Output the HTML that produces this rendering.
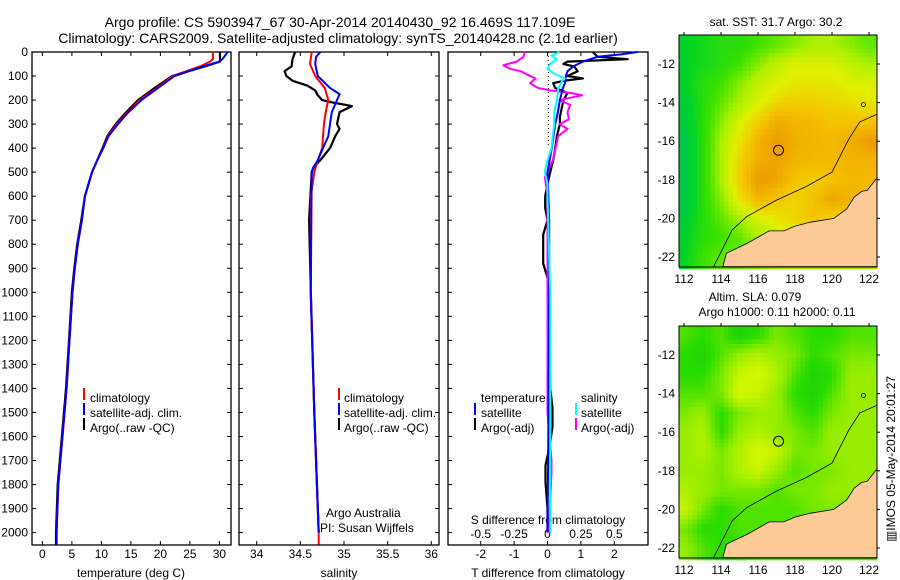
<!DOCTYPE html>
<html><head><meta charset="utf-8">
<style>
html,body{margin:0;padding:0;background:#fff;}
svg{display:block;font-family:"Liberation Sans",sans-serif;}
text{font-size:12px;fill:#000;}
</style></head>
<body>
<svg id="fig" width="900" height="580" viewBox="0 0 900 580" xmlns="http://www.w3.org/2000/svg">
<text x="340" y="27" text-anchor="middle" style="font-size:14px">Argo profile: CS 5903947_67 30-Apr-2014 20140430_92 16.469S 117.109E</text>
<text x="338" y="43" text-anchor="middle" style="font-size:14px">Climatology: CARS2009. Satellite-adjusted climatology: synTS_20140428.nc (2.1d earlier)</text>
<g id="p1"></g>
<g id="p2"></g>
<g id="p3"></g>
<g id="m1"></g>
<g id="m2"></g>
<text x="776" y="26" text-anchor="middle">sat. SST: 31.7 Argo: 30.2</text>
<text x="755" y="301" text-anchor="middle">Altim. SLA: 0.079</text>
<text x="777" y="316" text-anchor="middle">Argo h1000: 0.11 h2000: 0.11</text>
<text x="0" y="0" transform="translate(895,459) rotate(-90)" text-anchor="middle">▥IMOS 05-May-2014 20:01:27</text>
</svg>
<script>
// ---------- data ----------
const depthTicks=[0,100,200,300,400,500,600,700,800,900,1000,1100,1200,1300,1400,1500,1600,1700,1800,1900,2000];
const tempTicks=[0,5,10,15,20,25,30];
const salTicks=[34,34.5,35,35.5,36];
const salTickLabels=["34","34.5","35","35.5","36"];
const tdiffTicks=[-2,-1,0,1,2];
const sdiffTicks=[-0.5,-0.25,0,0.25,0.5];
const sdiffTickLabels=["-0.5","-0.25","0","0.25","0.5"];

const tDepth=[0,30,40,60,100,150,200,250,300,350,400,450,500,600,700,800,900,1000,1200,1400,1600,1800,2000,2050];
const tClim=[28.9,28.9,28.4,26.7,22.1,19.4,16.5,14.5,12.6,11.1,10.3,9.3,8.4,7.2,6.7,6.0,5.5,5.1,4.6,4.1,3.4,2.7,2.4,2.4];
const tSat=[31.4,30.5,30.0,27.2,22.4,19.6,16.8,14.6,12.8,11.2,10.3,9.3,8.4,7.2,6.7,6.0,5.5,5.1,4.6,4.1,3.4,2.7,2.4,2.4];
const tArgo=[30.1,30.1,30.1,27.5,22.0,19.0,16.2,14.2,12.4,11.0,10.2,9.3,8.4,7.2,6.6,5.9,5.4,5.0,4.5,4.0,3.3,2.6,2.3,2.3];

const sClimDepth=[0,50,100,150,200,250,300,400,450,500,550,600,1000,1500,2000,2050];
const sClim=[34.63,34.61,34.67,34.78,34.82,34.79,34.77,34.75,34.70,34.66,34.64,34.62,34.62,34.66,34.71,34.71];
const sSatDepth=[0,20,50,100,150,175,200,250,300,350,400,450,480,500,1000,1500,2000];
const sSat=[34.73,34.68,34.67,34.70,34.84,34.95,34.92,34.86,34.84,34.82,34.76,34.70,34.65,34.63,34.62,34.66,34.71];
const sArgoDepth=[0,30,60,80,100,120,140,160,180,200,210,225,250,300,320,350,400,450,480,500,700,1000,1500,2000];
const sArgo=[34.44,34.41,34.40,34.32,34.34,34.41,34.58,34.67,34.70,34.75,34.87,35.09,34.95,34.92,34.95,34.90,34.84,34.73,34.65,34.63,34.60,34.62,34.66,34.71];

const dtSatDepth=[0,10,20,40,60,80,100,130,150,200,250,300,400,500,700,1000,1500,2000];
const dtSat=[2.7,2.2,1.5,1.06,0.77,0.6,0.55,0.52,0.46,0.37,0.31,0.23,0.13,0.0,0.05,0.05,0.03,0.0];
const dtArgoDepth=[0,20,30,40,50,60,80,100,110,120,130,150,170,200,230,270,300,350,400,450,500,550,600,650,700,760,880,950,1100,1400,1480,1560,1650,1720,1790,1900,2000];
const dtArgo=[1.36,1.5,2.4,0.6,0.48,0.8,0.9,0.6,1.06,0.48,0.17,0.23,0.6,0.48,0.43,0.37,0.37,0.28,0.23,0.17,0.08,0.0,-0.07,-0.07,0.0,-0.13,-0.13,0.02,0.05,0.08,0.15,0.15,0.05,-0.06,-0.06,0.0,0.0];
const dsSatDepth=[0,15,30,50,70,90,110,120,150,200,250,300,350,400,450,500,550,600,1000,1500,2000];
const dsSat=[0.09,0.03,0.07,0.02,0.0,0.05,0.13,0.11,0.08,0.07,0.05,0.05,0.04,0.03,0.0,-0.02,0.0,0.0,0.02,0.02,0.02];
const dsArgoDepth=[0,20,40,55,70,80,100,110,130,150,160,170,180,190,200,220,250,280,300,320,350,400,450,500,520,600,1000,1500,1700,1750,2000];
const dsArgo=[-0.17,-0.18,-0.23,-0.33,-0.28,-0.2,-0.13,-0.09,-0.13,-0.07,0.02,0.17,0.26,0.17,0.09,0.17,0.15,0.16,0.09,0.15,0.08,0.06,0.04,0.0,-0.02,0.0,0.0,0.0,0.03,0.03,0.01];

// SST field (rows lat -11..-22, cols lon 112..122), 0=green .. 1=orange
const sstGrid=[
[0.20,0.25,0.30,0.30,0.35,0.40,0.45,0.50,0.50,0.45,0.40],
[0.20,0.25,0.30,0.35,0.45,0.55,0.60,0.60,0.60,0.55,0.50],
[0.20,0.30,0.35,0.45,0.55,0.60,0.65,0.65,0.65,0.60,0.60],
[0.15,0.30,0.40,0.50,0.60,0.70,0.72,0.72,0.70,0.68,0.65],
[0.15,0.30,0.45,0.60,0.72,0.82,0.80,0.78,0.75,0.75,0.75],
[0.10,0.30,0.50,0.65,0.80,0.88,0.82,0.80,0.78,0.82,0.88],
[0.10,0.30,0.50,0.70,0.82,0.85,0.80,0.78,0.78,0.80,0.80],
[0.10,0.30,0.50,0.72,0.88,0.85,0.75,0.72,0.75,0.78,0.78],
[0.10,0.30,0.45,0.65,0.80,0.75,0.70,0.75,0.85,0.80,0.80],
[0.15,0.30,0.40,0.50,0.60,0.65,0.70,0.75,0.70,0.70,0.70],
[0.20,0.30,0.35,0.40,0.50,0.55,0.60,0.60,0.60,0.60,0.60],
[0.20,0.35,0.40,0.40,0.45,0.50,0.50,0.50,0.50,0.50,0.50]];
// SLA field, 0=dark green .. 1=yellow
const slaGrid=[
[0.40,0.30,0.40,0.20,0.30,0.50,0.40,0.30,0.30,0.40,0.40],
[0.30,0.20,0.40,0.60,0.70,0.60,0.50,0.30,0.40,0.50,0.50],
[0.30,0.30,0.50,0.80,0.90,0.70,0.40,0.20,0.30,0.60,0.60],
[0.40,0.40,0.50,0.90,0.80,0.60,0.30,0.20,0.40,0.60,0.60],
[0.50,0.60,0.30,0.50,0.60,0.60,0.40,0.30,0.50,0.60,0.60],
[0.60,0.70,0.30,0.60,0.70,0.60,0.50,0.40,0.60,0.60,0.60],
[0.60,0.70,0.50,0.70,0.90,0.80,0.50,0.50,0.60,0.60,0.60],
[0.60,0.60,0.50,0.70,0.80,0.60,0.40,0.50,0.50,0.60,0.60],
[0.70,0.60,0.50,0.50,0.50,0.40,0.50,0.50,0.60,0.60,0.60],
[0.80,0.50,0.30,0.40,0.40,0.40,0.40,0.50,0.50,0.50,0.50],
[0.50,0.30,0.30,0.40,0.40,0.40,0.40,0.40,0.40,0.40,0.40],
[0.60,0.40,0.30,0.30,0.40,0.40,0.40,0.40,0.40,0.40,0.40]];
const lonTicks=[112,114,116,118,120,122];
const latTicks=[-12,-14,-16,-18,-20,-22];
const argoLon=117.109, argoLat=-16.469;
const coastLon=[114.1,114.3,115.4,116.6,117.4,118.0,118.8,120.1,120.8,121.2,121.6,121.9,122.43,122.43];
const coastLat=[-22.5,-21.8,-21.3,-20.65,-20.65,-20.4,-20.2,-20.0,-19.5,-18.9,-18.6,-18.55,-17.9,-22.5];
const isoLon=[113.6,114.6,115.4,117.0,118.6,120.0,120.9,121.5,122.43];
const isoLat=[-22.5,-20.6,-19.9,-19.05,-18.35,-17.6,-15.9,-15.0,-14.6];

// ---------- helpers ----------
const NS='http://www.w3.org/2000/svg';
function mk(parent,tag,attrs){const e=document.createElementNS(NS,tag);for(const k in attrs)e.setAttribute(k,attrs[k]);parent.appendChild(e);return e;}
const TOP=52,BOT=545;
const yD=d=>TOP+d*0.2403;
function frame(g,x0,x1){
  const r=mk(g,'rect',{x:x0,y:TOP,width:x1-x0,height:BOT-TOP,fill:'none',stroke:'#000','stroke-width':1.3});
  
  
  depthTicks.forEach(d=>{
    const y=yD(d);
    const t1=mk(g,'line',{x1:x0,x2:x0+4,y1:y,y2:y,stroke:'#000'});
    
    
    const t2=mk(g,'line',{x1:x1-4,x2:x1,y1:y,y2:y,stroke:'#000'});
    
    
  });
}
function xticks(g,vals,labels,xf,labelY,tickTop){
  vals.forEach((v,i)=>{
    const x=xf(v);
    const a=mk(g,'line',{x1:x,x2:x,y1:BOT-4,y2:BOT,stroke:'#000'});
    
    
    if(tickTop){const b=mk(g,'line',{x1:x,x2:x,y1:TOP,y2:TOP+4,stroke:'#000'});
    
    }
    const t=mk(g,'text',{x:x,y:labelY,'text-anchor':'middle'});t.textContent=labels[i];
    
    
  });
}
function line(g,xs,ds,xf,color,w,name){
  const pts=xs.map((v,i)=>xf(v).toFixed(1)+','+yD(ds[i]).toFixed(1)).join(' ');
  const p=mk(g,'polyline',{points:pts,fill:'none',stroke:color,'stroke-width':w,'stroke-linejoin':'round'});
  
  
}
function label(g,x,y,txt,name,anchor){const t=mk(g,'text',{x:x,y:y,'text-anchor':anchor||'start'});t.textContent=txt;
  
  return t;}
function legBar(g,x,y,color){const r=mk(g,'rect',{x:x,y:y-10,width:2,height:12,fill:color});
  
  }

// ---------- panel 1 ----------
const g1=document.getElementById('p1');
const xT=v=>42.4+5.9*v;
frame(g1,32,231);
depthTicks.forEach(d=>{const t=label(g1,28,yD(d)+4,String(d),'depth-tick-label','end');});
xticks(g1,tempTicks,tempTicks.map(String),xT,558,true);
line(g1,tArgo,tDepth,xT,'#000',2.2,'temp-argo-line');
line(g1,tClim,tDepth,xT,'#f00',2,'temp-climatology-line');
line(g1,tSat,tDepth,xT,'#00f',2,'temp-satellite-line');
legBar(g1,83,398,'#f00');label(g1,90,402,'climatology','legend-climatology');
legBar(g1,83,413,'#00f');label(g1,90,417,'satellite-adj. clim.','legend-satellite');
legBar(g1,83,428,'#000');label(g1,90,432,'Argo(..raw -QC)','legend-argo');
label(g1,131,577,'temperature (deg C)','x-axis-title','middle');

// ---------- panel 2 ----------
const g2=document.getElementById('p2');
const xS=v=>256.7+87.3*(v-34);
frame(g2,239,439);
xticks(g2,salTicks,salTickLabels,xS,558,true);
line(g2,sArgo,sArgoDepth,xS,'#000',2.2,'sal-argo-line');
line(g2,sClim,sClimDepth,xS,'#f00',2,'sal-climatology-line');
line(g2,sSat,sSatDepth,xS,'#00f',2,'sal-satellite-line');
legBar(g2,338,398,'#f00');label(g2,344,402,'climatology','legend-climatology');
legBar(g2,338,413,'#00f');label(g2,344,417,'satellite-adj. clim.','legend-satellite');
legBar(g2,338,428,'#000');label(g2,344,432,'Argo(..raw -QC)','legend-argo');
label(g2,326,517,'Argo Australia','credit-argo-australia');
label(g2,320,532,'PI: Susan Wijffels','credit-pi');
label(g2,339,577,'salinity','x-axis-title','middle');

// ---------- panel 3 ----------
const g3=document.getElementById('p3');
const xDT=v=>547.5+33.4*v;
const xDS=v=>547.5+133.6*v;
frame(g3,448,648);
xticks(g3,tdiffTicks,tdiffTicks.map(String),xDT,558,true);
sdiffTicks.forEach((v,i)=>{label(g3,xDS(v),538,sdiffTickLabels[i],'s-diff-tick-label','middle');});
label(g3,548,524,'S difference from climatology','s-diff-axis-title','middle');
const dl=mk(g3,'line',{x1:548.3,x2:548.3,y1:TOP,y2:yD(400),stroke:'#000','stroke-dasharray':'1,3'});


line(g3,dtArgo,dtArgoDepth,xDT,'#000',2.2,'tdiff-argo-line');
line(g3,dsArgo,dsArgoDepth,xDS,'#f0f',2,'sdiff-argo-line');
line(g3,dtSat,dtSatDepth,xDT,'#00f',2,'tdiff-satellite-line');
line(g3,dsSat,dsSatDepth,xDS,'#0ff',2,'sdiff-satellite-line');
label(g3,481,402,'temperature','legend-temperature-header');
legBar(g3,474,413,'#00f');label(g3,481,417,'satellite','legend-t-satellite');
legBar(g3,474,428,'#000');label(g3,481,432,'Argo(-adj)','legend-t-argo');
label(g3,581,402,'salinity','legend-salinity-header');
legBar(g3,575,413,'#0ff');label(g3,581,417,'satellite','legend-s-satellite');
legBar(g3,575,428,'#f0f');label(g3,581,432,'Argo(-adj)','legend-s-argo');
label(g3,548,577,'T difference from climatology','x-axis-title','middle');

// ---------- maps ----------
function lerpC(stops,v){v=Math.max(0,Math.min(1,v));for(let i=1;i<stops.length;i++){if(v<=stops[i][0]){const a=stops[i-1],b=stops[i],t=(v-a[0])/(b[0]-a[0]);return 'rgb('+[1,2,3].map(k=>Math.round(a[k]+(b[k]-a[k])*t)).join(',')+')';}}const s=stops[stops.length-1];return 'rgb('+s[1]+','+s[2]+','+s[3]+')';}
const sstStops=[[0,0,190,120],[0.2,0,210,40],[0.35,60,225,0],[0.5,170,240,0],[0.62,225,240,0],[0.75,245,195,0],[0.9,235,150,0],[1,220,120,10]];
const slaStops=[[0,20,190,20],[0.3,40,220,0],[0.55,140,235,0],[0.8,200,245,0],[1,225,250,0]];
function sample(grid,lon,lat){
  let c=lon-112,r=-11-lat;c=Math.max(0,Math.min(10,c));r=Math.max(0,Math.min(11,r));
  const c0=Math.floor(c),r0=Math.floor(r),c1=Math.min(10,c0+1),r1=Math.min(11,r0+1),fc=c-c0,fr=r-r0;
  return grid[r0][c0]*(1-fc)*(1-fr)+grid[r0][c1]*fc*(1-fr)+grid[r1][c0]*(1-fc)*fr+grid[r1][c1]*fc*fr;
}
function drawMap(id,top,grid,stops,name){
  const g=document.getElementById(id);
  const X0=679,X1=877,Y0=top,Y1=top+232;
  const xm=lon=>684+18.5*(lon-112);
  const ym=lat=>(top+29)+19.3*(-12-lat);
  const cells=mk(g,'g',{});
  
  
  const step=4.5;
  for(let y=Y0;y<Y1;y+=step){for(let x=X0;x<X1;x+=step){
    const lon=112+(x+step/2-684)/18.5,lat=-12-(y+step/2-(top+29))/19.3;
    mk(cells,'rect',{x:x,y:y,width:step+0.3,height:step+0.3,fill:lerpC(stops,sample(grid,lon,lat))});
  }}
  const land=mk(g,'polygon',{points:coastLon.map((l,i)=>xm(l).toFixed(1)+','+ym(coastLat[i]).toFixed(1)).join(' '),fill:'#fcca97',stroke:'#000','stroke-width':0.8});
  
  
  const iso=mk(g,'polyline',{points:isoLon.map((l,i)=>xm(l).toFixed(1)+','+ym(isoLat[i]).toFixed(1)).join(' '),fill:'none',stroke:'#000','stroke-width':0.8});
  
  
  const isl=mk(g,'circle',{cx:xm(121.7),cy:ym(-14.1),r:2,fill:'none',stroke:'#000','stroke-width':0.8});
  
  
  const c=mk(g,'circle',{cx:xm(argoLon),cy:ym(argoLat),r:5,fill:'none',stroke:'#000','stroke-width':1});
  
  
  const fr=mk(g,'rect',{x:X0,y:Y0,width:X1-X0,height:Y1-Y0,fill:'none',stroke:'#000','stroke-width':1});
  
  
  lonTicks.forEach(l=>{const x=xm(l);
    const t=mk(g,'line',{x1:x,x2:x,y1:Y0-3,y2:Y0,stroke:'#000'});
    
    
    label(g,x,Y1+16,String(l),'lon-tick-label','middle');});
  latTicks.forEach(l=>{const y=ym(l);
    const t=mk(g,'line',{x1:X1,x2:X1+3,y1:y,y2:y,stroke:'#000'});
    
    
    label(g,X0-4,y+4,String(l),'lat-tick-label','end');});
}
drawMap('m1',35,sstGrid,sstStops,'sst-map');
drawMap('m2',326,slaGrid,slaStops,'sla-map');
</script>
</body></html>
